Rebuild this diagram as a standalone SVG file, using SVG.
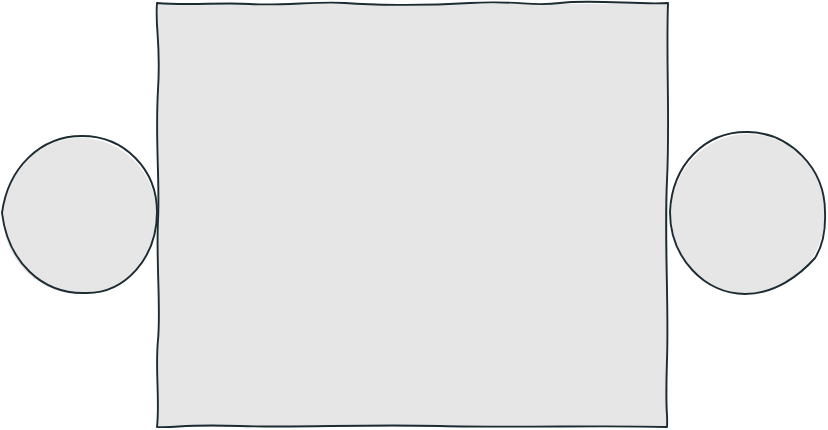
<svg xmlns="http://www.w3.org/2000/svg" width="828" height="430" viewBox="0 0 828 430">
<style>
.fill{fill:#e6e6e6;stroke:none}
.ink{fill:none;stroke:#1d2b33;stroke-width:1.9;stroke-linejoin:round;stroke-linecap:round}
</style>
<rect width="828" height="430" fill="#ffffff"/>
<g id="table">
<rect class="fill" x="158" y="4" width="510" height="423"/>
<path class="ink" d="M157,3 C190,6 220,2 250,4 S320,1 345,3 S420,6 470,3 S530,7 560,3 S640,5 668,3 C666,60 670,120 667,180 S669,300 667,360 S668,410 667,427 C600,425 520,428 440,426 S300,428 240,426 S180,428 157,427 C160,400 155,370 158,340 S156,260 158,220 S155,140 158,90 S155,30 157,3 Z"/>
</g>
<g id="seat-left">
<ellipse class="fill" cx="80" cy="216" rx="77" ry="78"/>
<path class="ink" d="M2,213 C8,168 40,136 82,136 C125,136 157,170 157,212 C157,258 125,294 85,293 C42,294 8,262 2,213 Z"/>
</g>
<g id="seat-right">
<ellipse class="fill" cx="748" cy="214" rx="77" ry="80"/>
<path class="ink" d="M670,212 C672,165 705,131 748,132 C790,133 825,168 825,212 C826,235 820,250 815,258 C800,275 775,294 745,294 C705,294 670,258 670,212 Z"/>
</g>
<g id="connectors"/>
</svg>
